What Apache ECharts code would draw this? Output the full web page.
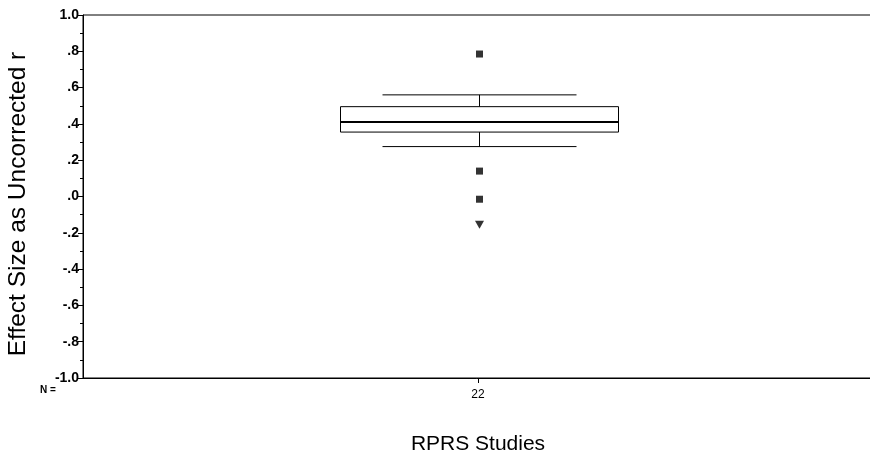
<!DOCTYPE html>
<html>
<head>
<meta charset="utf-8">
<script src="https://cdn.jsdelivr.net/npm/echarts@6/dist/echarts.min.js"></script>
<style>html,body{margin:0;padding:0;background:#fff;}#c{width:870px;height:454px;}</style>
</head>
<body>
<div id="c"></div>
<script>
var categories = ['22'];
// [whiskerLow, Q1, median, Q3, whiskerHigh]
var boxStats = [0.275, 0.355, 0.41, 0.495, 0.56];
var outlierSquares = [0.785, 0.14, -0.015];
var extremeTriangles = [-0.155];
var yTicks = [-1.0, -0.8, -0.6, -0.4, -0.2, 0.0, 0.2, 0.4, 0.6, 0.8, 1.0];

var FONT = '"Liberation Sans", Arial, sans-serif';
var chart = echarts.init(document.getElementById('c'), null, {renderer: 'canvas'});

function fmt(v) {
  var s = (Math.abs(v) < 1e-9 ? 0 : v).toFixed(1);
  return s.replace(/^(-?)0\./, '$1.');
}

var option = {
  animation: false,
  backgroundColor: '#fff',
  grid: {left: 83, top: 15, right: -3, bottom: 76, containLabel: false, outerBoundsMode: 'none',
         show: true, borderColor: '#000', borderWidth: 1, backgroundColor: 'transparent'},
  xAxis: {
    type: 'category',
    data: categories,
    boundaryGap: true,
    axisLine: {show: true, onZero: false, lineStyle: {color: '#000', width: 1}},
    axisTick: {show: true, alignWithLabel: true, length: 5, lineStyle: {color: '#000'}},
    axisLabel: {color: '#000', fontFamily: FONT, fontSize: 12, margin: 11},
    splitLine: {show: false},
    name: 'RPRS Studies',
    nameLocation: 'middle',
    nameGap: 56,
    nameTextStyle: {color: '#000', fontFamily: FONT, fontSize: 21}
  },
  yAxis: {
    type: 'value',
    min: yTicks[0],
    max: yTicks[yTicks.length - 1],
    interval: 0.2,
    axisLine: {show: true, onZero: false, lineStyle: {color: '#000', width: 1}},
    axisTick: {show: true, length: 5, inside: false, lineStyle: {color: '#000'}},
    minorTick: {show: true, splitNumber: 2, length: 3, lineStyle: {color: '#000'}},
    splitLine: {show: false},
    axisLabel: {color: '#000', fontFamily: FONT, fontSize: 14, fontWeight: 'bold', margin: 4, formatter: fmt}
  },
  graphic: [
    {type: 'text', left: 40, top: 385, style: {text: 'N =', fill: '#000', font: 'bold 10px ' + FONT}},
    {type: 'text', x: 18, y: 204, rotation: Math.PI / 2,
     style: {text: 'Effect Size as Uncorrected r', fill: '#000', font: '24.5px ' + FONT, align: 'center', verticalAlign: 'middle'}}
  ],
  series: [
    {
      type: 'custom',
      data: [[0].concat(boxStats)],
      encode: {x: 0, y: [1, 2, 3, 4, 5]},
      renderItem: function (params, api) {
        var x = api.value(0);
        var lo = api.coord([x, api.value(1)]);
        var q1 = api.coord([x, api.value(2)]);
        var md = api.coord([x, api.value(3)]);
        var q3 = api.coord([x, api.value(4)]);
        var hi = api.coord([x, api.value(5)]);
        var cx = lo[0] + 1.5;
        var bw = 139, cw = 97;
        var ls = {stroke: '#000', lineWidth: 1};
        return {
          type: 'group',
          children: [
            {type: 'line', shape: {x1: cx, y1: hi[1], x2: cx, y2: q3[1]}, style: ls},
            {type: 'line', shape: {x1: cx, y1: q1[1], x2: cx, y2: lo[1]}, style: ls},
            {type: 'line', shape: {x1: cx - cw, y1: hi[1], x2: cx + cw, y2: hi[1]}, style: ls},
            {type: 'line', shape: {x1: cx - cw, y1: lo[1], x2: cx + cw, y2: lo[1]}, style: ls},
            {type: 'rect', shape: {x: cx - bw, y: q3[1], width: 2 * bw, height: q1[1] - q3[1]}, style: {fill: '#fff', stroke: '#000', lineWidth: 1}},
            {type: 'line', shape: {x1: cx - bw, y1: md[1], x2: cx + bw, y2: md[1]}, style: {stroke: '#000', lineWidth: 2}}
          ]
        };
      }
    },
    {
      type: 'scatter',
      data: outlierSquares.map(function (v) { return [0, v]; }),
      symbol: 'rect',
      symbolSize: 7,
      symbolOffset: [1.5, 0],
      itemStyle: {color: '#000'}
    },
    {
      type: 'scatter',
      data: extremeTriangles.map(function (v) { return [0, v]; }),
      symbol: 'triangle',
      symbolRotate: 180,
      symbolSize: [9, 8],
      symbolOffset: [1.5, 0],
      itemStyle: {color: '#000'}
    }
  ]
};
chart.setOption(option);
</script>
</body>
</html>
